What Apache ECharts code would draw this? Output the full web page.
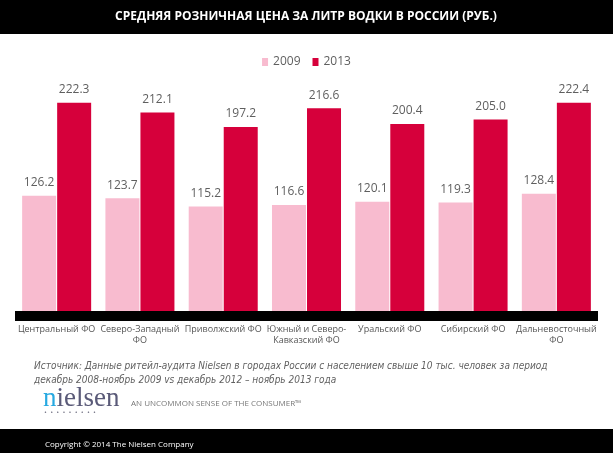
<!DOCTYPE html>
<html>
<head>
<meta charset="utf-8">
<script src="https://cdn.jsdelivr.net/npm/echarts@6/dist/echarts.min.js"></script>
<style>
  html, body { margin: 0; padding: 0; background: #fff; }
  #chart { width: 613px; height: 453px; }
</style>
</head>
<body>
<div id="chart"></div>
<script>
  var regions = ['Центральный ФО', 'Северо-Западный\nФО', 'Приволжский ФО', 'Южный и Северо-\nКавказский ФО',
                 'Уральский ФО', 'Сибирский ФО', 'Дальневосточный\nФО'];
  var price2009 = [126.2, 123.7, 115.2, 116.6, 120.1, 119.3, 128.4];
  var price2013 = [222.3, 212.1, 197.2, 216.6, 200.4, 205.0, 222.4];
  var years = ['2009', '2013'];

  var myChart = echarts.init(document.getElementById('chart'));
  var lbl = { show: true, position: 'top', distance: 7, color: '#5f5f5f', fontSize: 12,
              fontFamily: 'Open Sans', formatter: function (p) { return p.value.toFixed(1); } };
  var option = {
    animation: false,
    color: ['#f8bbcf', '#d6003b'],
    legend: {
      data: years, top: 51, left: 'center',
      itemWidth: 6, itemHeight: 8, itemGap: 12,
      icon: 'rect',
      textStyle: { color: '#5f5f5f', fontSize: 12, fontFamily: 'Open Sans' }
    },
    grid: { left: 15, right: 15, top: 74, bottom: 137 },
    xAxis: {
      type: 'category', data: regions, z: 3,
      axisLine: { lineStyle: { color: '#000', width: 10, cap: 'butt' } },
      axisTick: { show: false },
      axisLabel: { interval: 0, margin: 8, color: '#555', fontSize: 9, lineHeight: 11,
                   fontFamily: 'Open Sans' }
    },
    // zero sits just under the thick axis bar
    yAxis: { type: 'value', min: 2, max: 252, show: false, splitLine: { show: false } },
    series: [
      { name: years[0], type: 'bar', data: price2009, barWidth: 34, barGap: '3%', label: lbl },
      { name: years[1], type: 'bar', data: price2013, barWidth: 34, barGap: '3%', label: lbl }
    ],
    graphic: [
      { type: 'rect', shape: { x: 0, y: 0, width: 613, height: 34 }, style: { fill: '#000' } },
      { type: 'text', x: 306, y: 17, style: { text: 'СРЕДНЯЯ РОЗНИЧНАЯ ЦЕНА ЗА ЛИТР ВОДКИ В РОССИИ (РУБ.)',
        fill: '#fff', font: 'bold 12px "Open Sans"', align: 'center', verticalAlign: 'middle' } },
      { type: 'text', x: 34, y: 359, style: {
        text: 'Источник: Данные ритейл-аудита Nielsen в городах России с населением свыше 10 тыс. человек за период\nдекабрь 2008-ноябрь 2009 vs декабрь 2012 – ноябрь 2013 года',
        fill: '#5f5f5f', font: 'italic 10px "Liberation Sans Narrow", "DejaVu Sans Condensed"',
        lineHeight: 14, verticalAlign: 'top' } },
      { type: 'text', x: 43, y: 399, style: {
        text: '{a|n}{b|ielsen}', verticalAlign: 'middle',
        rich: { a: { fill: '#27a9e1', font: '27px "Liberation Serif"' },
                b: { fill: '#5a5a78', font: '27px "Liberation Serif"' } } } },
      { type: 'text', x: 44, y: 413, style: { text: '•  •  •  •  •  •  •  •  •', fill: '#55556a',
        font: '5px "DejaVu Sans"', verticalAlign: 'middle' } },
      { type: 'text', x: 131, y: 404, style: { text: 'AN UNCOMMON SENSE OF THE CONSUMER™',
        fill: '#777', font: '8px "Open Sans"', verticalAlign: 'middle' } },
      { type: 'rect', shape: { x: 0, y: 429, width: 613, height: 24 }, style: { fill: '#000' } },
      { type: 'text', x: 45, y: 445, style: { text: 'Copyright © 2014 The Nielsen Company',
        fill: '#fff', font: '8px "Open Sans"', verticalAlign: 'middle' } }
    ]
  };
  myChart.setOption(option);
</script>
</body>
</html>
